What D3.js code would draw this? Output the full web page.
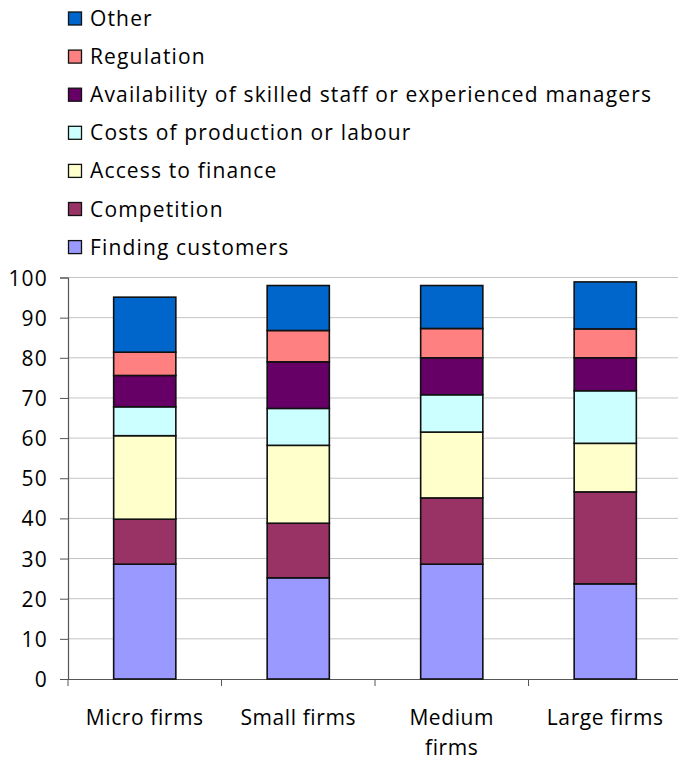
<!DOCTYPE html>
<html>
<head>
<meta charset="utf-8">
<script src="https://cdn.jsdelivr.net/npm/d3@7"></script>
<style>
  body { margin: 0; background: #fff; }
  svg text { font-family: "Open Sans", "Noto Sans", sans-serif; fill: #000; }
</style>
</head>
<body>
<svg></svg>
<script>
let width = 678, height = 762

let categories = ["Micro firms", "Small firms", "Medium firms", "Large firms"]
let seriesNames = ["Finding customers", "Competition", "Access to finance", "Costs of production or labour",
    "Availability of skilled staff or experienced managers", "Regulation", "Other"]
let seriesColors = ["#9999ff", "#993366", "#ffffcc", "#ccffff", "#660066", "#ff8080", "#0066cc"]

// one array per series, in category order
let findingCustomers = [28.6, 25.2, 28.6, 23.7]
let competition      = [11.2, 13.6, 16.5, 22.9]
let accessFinance    = [20.8, 19.4, 16.4, 12.1]
let costsProduction  = [7.2, 9.2, 9.3, 13.1]
let skilledStaff     = [7.8, 11.6, 9.2, 8.2]
let regulation       = [5.8, 7.8, 7.3, 7.2]
let other            = [13.7, 11.2, 10.7, 11.7]

let yTicks = [0, 10, 20, 30, 40, 50, 60, 70, 80, 90, 100]

let seriesValues = [findingCustomers, competition, accessFinance, costsProduction, skilledStaff, regulation, other]

let svg = d3.select("svg").attr("width", width).attr("height", height)

let plotLeft = 68, plotRight = 682, plotTop = 277.5, plotBottom = 679

let x = d3.scaleBand().domain(categories).range([plotLeft, plotRight]).padding(0)
let y = d3.scaleLinear().domain([0, 100]).range([plotBottom, plotTop])
let barW = x.bandwidth() * 0.405

// rows for d3.stack
let rows = categories.map((c, i) => {
    let r = {cat: c}
    seriesNames.forEach((s, j) => r[s] = seriesValues[j][i])
    return r
})
let stacked = d3.stack().keys(seriesNames)(rows)

// gridlines
svg.append("g")
    .selectAll("line")
    .data(yTicks.filter(t => t > 0))
    .enter()
    .append("line")
    .attr("x1", plotLeft).attr("x2", plotRight)
    .attr("y1", d => y(d)).attr("y2", d => y(d))
    .attr("stroke", "#c4c4c4")
    .attr("stroke-width", 1)

// y axis
let yAxis = svg.append("g")
    .attr("transform", `translate(${plotLeft},0)`)
    .call(d3.axisLeft(y).tickValues(yTicks).tickSize(8).tickPadding(12))
yAxis.select(".domain").attr("stroke", "#555").attr("stroke-width", 1.2)
yAxis.selectAll(".tick line").attr("stroke", "#555")
yAxis.selectAll("text")
    .style("font-size", "21px")
    .style("letter-spacing", "1.2px")
    .attr("dy", "0.36em")

// x axis
let xAxis = svg.append("g")
    .attr("transform", `translate(0,${plotBottom})`)
    .call(d3.axisBottom(x).tickSize(0).tickFormat(""))
xAxis.select(".domain").attr("stroke", "#555").attr("stroke-width", 1.2)
svg.append("g")
    .selectAll("line")
    .data(categories)
    .enter()
    .append("line")
    .attr("x1", d => x(d)).attr("x2", d => x(d))
    .attr("y1", plotBottom).attr("y2", plotBottom + 7)
    .attr("stroke", "#555")

// category labels, wrapped when too wide
let labels = svg.append("g")
    .selectAll("text")
    .data(categories)
    .enter()
    .append("text")
    .attr("x", d => x(d) + x.bandwidth() / 2)
    .attr("y", 725)
    .attr("text-anchor", "middle")
    .style("font-size", "21px")
    .style("letter-spacing", "0.6px")
    .text(d => d)
labels.each(function(d) {
    let t = d3.select(this)
    if (this.getComputedTextLength() > 130) {
        let words = d.split(" ")
        t.text(null)
        t.append("tspan").attr("x", t.attr("x")).text(words.slice(0, -1).join(" "))
        t.append("tspan").attr("x", t.attr("x")).attr("dy", 30).text(words[words.length - 1])
    }
})

// bars
svg.append("g")
    .selectAll("g")
    .data(stacked)
    .enter()
    .append("g")
    .attr("fill", (d, i) => seriesColors[i])
    .selectAll("rect")
    .data(d => d)
    .enter()
    .append("rect")
    .attr("x", d => x(d.data.cat) + (x.bandwidth() - barW) / 2)
    .attr("y", d => y(d[1]))
    .attr("width", barW)
    .attr("height", d => y(d[0]) - y(d[1]))
    .attr("stroke", "#111")
    .attr("stroke-width", 1.6)

// legend, Other on top
let legendOrder = seriesNames.map((s, i) => i).reverse()
let legend = svg.append("g")
    .selectAll("g")
    .data(legendOrder)
    .enter()
    .append("g")
    .attr("transform", (d, k) => `translate(68,${18.5 + k * 38.1})`)
legend.append("rect")
    .attr("x", 0.5).attr("y", -6.5)
    .attr("width", 13).attr("height", 13)
    .attr("fill", d => seriesColors[d])
    .attr("stroke", "#111")
    .attr("stroke-width", 1.3)
legend.append("text")
    .attr("x", 22).attr("y", 7.5)
    .style("font-size", "21px")
    .style("letter-spacing", "1.15px")
    .text(d => seriesNames[d])
</script>
</body>
</html>
